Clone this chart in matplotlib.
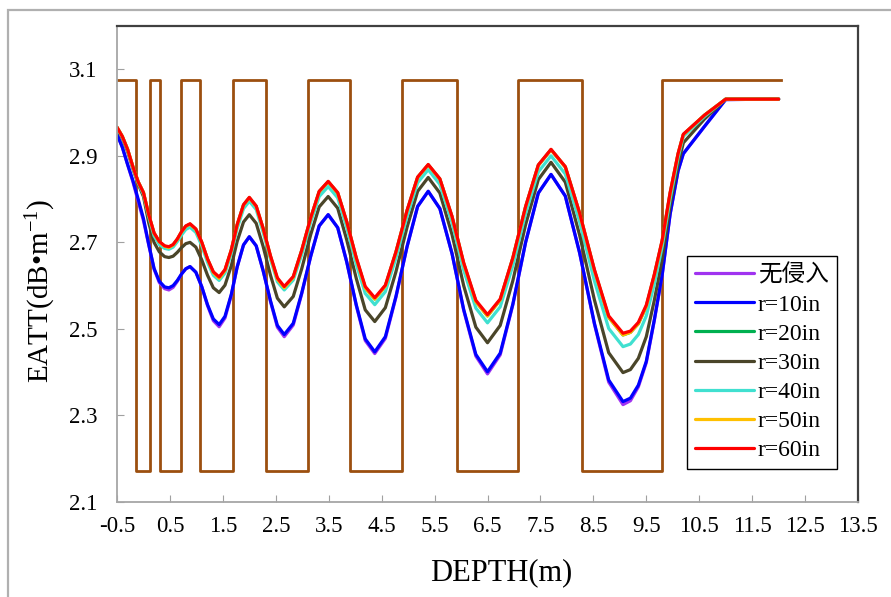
import numpy as np
import matplotlib
matplotlib.use('Agg')
import matplotlib.pyplot as plt
from matplotlib.patches import Rectangle

plt.rcParams['font.family'] = ['Liberation Serif', 'Noto Sans CJK SC', 'DejaVu Sans']
plt.rcParams['mathtext.fontset'] = 'custom'
plt.rcParams['mathtext.rm'] = 'Liberation Serif'
plt.rcParams['mathtext.it'] = 'Liberation Serif:italic'

# depth samples (m) for the EATT curves
depth = [-0.5, -0.4, -0.3, -0.2, -0.1, 0.0, 0.1, 0.2, 0.3, 0.4, 0.48,
         0.56, 0.64, 0.72, 0.80, 0.88,
         0.99, 1.10, 1.21, 1.32, 1.43,
         1.54, 1.66, 1.77, 1.89, 2.0,
         2.13, 2.26, 2.40, 2.53, 2.66,
         2.83, 2.99, 3.16, 3.32, 3.49,
         3.67, 3.84, 4.02, 4.19, 4.37,
         4.57, 4.77, 4.98, 5.18, 5.38,
         5.60, 5.83, 6.05, 6.28, 6.5,
         6.74, 6.98, 7.22, 7.46, 7.7,
         7.97, 8.24, 8.52, 8.79, 9.06,
         9.2, 9.35, 9.5, 9.65, 9.8, 9.95, 10.1, 10.2, 10.6, 11.0, 12.0]

no_inv = [2.950, 2.920, 2.880, 2.840, 2.795, 2.750, 2.694, 2.638, 2.607, 2.593, 2.590,
          2.596, 2.610, 2.627, 2.639, 2.644,
          2.631, 2.598, 2.554, 2.519, 2.505,
          2.525, 2.578, 2.643, 2.694, 2.713,
          2.692, 2.635, 2.563, 2.504, 2.482,
          2.509, 2.581, 2.668, 2.738, 2.764,
          2.734, 2.655, 2.554, 2.473, 2.443,
          2.478, 2.573, 2.690, 2.783, 2.818,
          2.778, 2.674, 2.543, 2.437, 2.396,
          2.440, 2.556, 2.700, 2.814, 2.857,
          2.807, 2.676, 2.511, 2.377, 2.325,
          2.334, 2.366, 2.422, 2.518, 2.624, 2.765, 2.865, 2.905, 2.968, 3.030, 3.031]

r10 = [2.950, 2.920, 2.880, 2.843, 2.800, 2.755, 2.695, 2.640, 2.610, 2.597, 2.595,
       2.600, 2.612, 2.627, 2.639, 2.644,
       2.631, 2.598, 2.556, 2.523, 2.510,
       2.529, 2.580, 2.643, 2.694, 2.713,
       2.692, 2.635, 2.565, 2.508, 2.487,
       2.513, 2.583, 2.668, 2.738, 2.764,
       2.734, 2.655, 2.556, 2.477, 2.447,
       2.482, 2.575, 2.690, 2.783, 2.818,
       2.778, 2.674, 2.545, 2.441, 2.401,
       2.444, 2.558, 2.700, 2.814, 2.857,
       2.807, 2.676, 2.513, 2.382, 2.332,
       2.340, 2.370, 2.425, 2.520, 2.625, 2.765, 2.865, 2.905, 2.968, 3.030, 3.031]

r30 = [2.962, 2.941, 2.910, 2.870, 2.835, 2.806, 2.745, 2.700, 2.678, 2.667, 2.665,
       2.668, 2.677, 2.688, 2.697, 2.700,
       2.689, 2.660, 2.624, 2.595, 2.584,
       2.601, 2.646, 2.702, 2.747, 2.764,
       2.744, 2.691, 2.624, 2.571, 2.551,
       2.575, 2.639, 2.718, 2.782, 2.806,
       2.779, 2.706, 2.617, 2.544, 2.517,
       2.549, 2.632, 2.735, 2.818, 2.850,
       2.814, 2.718, 2.600, 2.504, 2.468,
       2.508, 2.612, 2.741, 2.845, 2.885,
       2.839, 2.717, 2.567, 2.445, 2.399,
       2.406, 2.432, 2.482, 2.565, 2.660, 2.785, 2.880, 2.930, 2.985, 3.031, 3.031]

r40 = [2.964, 2.943, 2.913, 2.872, 2.837, 2.811, 2.758, 2.715, 2.695, 2.686, 2.684,
       2.689, 2.702, 2.717, 2.730, 2.735,
       2.723, 2.693, 2.654, 2.624, 2.612,
       2.629, 2.675, 2.732, 2.778, 2.795,
       2.776, 2.724, 2.661, 2.609, 2.590,
       2.613, 2.672, 2.747, 2.806, 2.829,
       2.803, 2.735, 2.650, 2.582, 2.556,
       2.586, 2.664, 2.760, 2.838, 2.868,
       2.834, 2.746, 2.636, 2.548, 2.514,
       2.551, 2.647, 2.767, 2.863, 2.900,
       2.858, 2.748, 2.611, 2.501, 2.459,
       2.465, 2.487, 2.530, 2.603, 2.690, 2.800, 2.895, 2.945, 2.991, 3.031, 3.031]

r50 = [2.966, 2.945, 2.915, 2.875, 2.840, 2.815, 2.763, 2.721, 2.701, 2.691, 2.688,
       2.694, 2.707, 2.724, 2.737, 2.742,
       2.730, 2.700, 2.661, 2.630, 2.617,
       2.635, 2.682, 2.740, 2.786, 2.803,
       2.783, 2.732, 2.667, 2.615, 2.595,
       2.619, 2.681, 2.756, 2.817, 2.840,
       2.814, 2.747, 2.663, 2.595, 2.569,
       2.599, 2.677, 2.773, 2.850, 2.879,
       2.846, 2.759, 2.651, 2.563, 2.530,
       2.567, 2.664, 2.782, 2.878, 2.914,
       2.874, 2.767, 2.635, 2.527, 2.486,
       2.492, 2.512, 2.552, 2.623, 2.703, 2.813, 2.904, 2.949, 2.994, 3.031, 3.031]

# r=20in sits under the r=50/60 curves on the chart
r20 = r50

r60 = [2.966, 2.945, 2.915, 2.875, 2.840, 2.815, 2.764, 2.722, 2.702, 2.692, 2.690,
       2.695, 2.708, 2.725, 2.738, 2.743,
       2.731, 2.701, 2.662, 2.632, 2.620,
       2.637, 2.683, 2.741, 2.787, 2.804,
       2.784, 2.733, 2.669, 2.618, 2.598,
       2.621, 2.682, 2.757, 2.818, 2.841,
       2.815, 2.748, 2.665, 2.598, 2.572,
       2.601, 2.678, 2.774, 2.851, 2.880,
       2.847, 2.760, 2.653, 2.566, 2.533,
       2.569, 2.665, 2.783, 2.879, 2.915,
       2.875, 2.768, 2.637, 2.530, 2.490,
       2.495, 2.515, 2.555, 2.625, 2.705, 2.815, 2.905, 2.950, 2.994, 3.031, 3.031]

# layer indicator (step line)
layer_depth = [-0.5, -0.14, 0.12, 0.32, 0.70, 1.07, 1.70, 2.31, 3.11, 3.90, 4.89, 5.92, 7.08, 8.29, 9.79, 12.05]
layer_val = [3.075, 2.172, 3.075, 2.172, 3.075, 2.172, 3.075, 2.172, 3.075, 2.172, 3.075, 2.172, 3.075, 2.172, 3.075, 3.075]

labels = ['无侵入', 'r=10in', 'r=20in', 'r=30in', 'r=40in', 'r=50in', 'r=60in']
series = [no_inv, r10, r20, r30, r40, r50, r60]
colors = ['#A033F0', '#0000FF', '#00B050', '#4A4529', '#40E0D0', '#FFC000', '#FF0000']

xticks = np.arange(-0.5, 13.6, 1.0)
yticks = np.arange(2.1, 3.15, 0.2)

fig = plt.figure(figsize=(8.91, 5.97), dpi=100)
ax = fig.add_axes([117/891, 1-502/597, (858-117)/891, (502-26)/597])

# outer chart border
fig.patches.append(Rectangle((8/891, -0.1), 1.2, 1.1-10/597, transform=fig.transFigure,
                             fill=False, edgecolor='#B0B0B0', linewidth=1.6))

ax.plot(layer_depth, layer_val, drawstyle='steps-post', color='#9C4F0F', linewidth=2.0)
for s, lab, c in zip(series, labels, colors):
    ax.plot(depth, s, color=c, linewidth=2.3, label=lab,
            solid_joinstyle='round', solid_capstyle='round')

ax.set_xlim(-0.5, 13.5)
ax.set_ylim(2.1, 3.2)
ax.set_xticks(xticks)
ax.set_xticklabels(['%.1f' % v for v in xticks])
ax.set_yticks(yticks)
ax.set_yticklabels(['%.1f' % v for v in yticks])
ax.tick_params(direction='in', length=5, color='#A0A0A0', labelsize=16.5)
ax.tick_params(axis='x', pad=10)
ax.tick_params(axis='y', pad=14)

for side in ['left', 'bottom']:
    ax.spines[side].set_color('#A6A6A6')
    ax.spines[side].set_linewidth(1.3)
for side in ['top', 'right']:
    ax.spines[side].set_color('#404040')
    ax.spines[side].set_linewidth(1.6)

ax.set_xlabel('DEPTH(m)', fontsize=22)
ax.xaxis.set_label_coords(0.518, -0.118)
ax.set_ylabel('EATT(dB•m$^{-1}$)', fontsize=21)
ax.yaxis.set_label_coords(-0.079, 0.443)

leg = ax.legend(loc='upper left', bbox_to_anchor=(687/891, 1-256/597), bbox_transform=fig.transFigure,
                borderaxespad=0, fontsize=17, frameon=True, fancybox=False, framealpha=1,
                edgecolor='black', handlelength=2.5, handletextpad=0.15, labelspacing=0.32,
                borderpad=0.35)
leg.get_frame().set_linewidth(1.0)

fig.savefig('out.png', dpi=100)
